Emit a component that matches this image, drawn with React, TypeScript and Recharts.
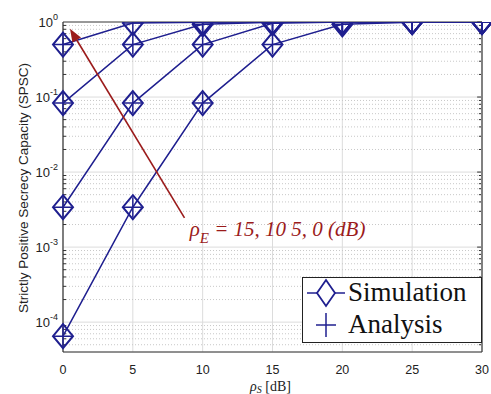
import React from 'react';
import {
    LineChart,
    Line,
    XAxis,
    YAxis,
    CartesianGrid,
    ReferenceLine,
    ReferenceDot,
    Legend,
} from 'recharts';

// rho_S in dB
const rhoS = [0, 5, 10, 15, 20, 25, 30];
// SPSC for rho_E = 0, 5, 10, 15 dB (top to bottom)
const spscE0 = [0.5, 0.97, 0.995, 1, 1, 1, 1];
const spscE5 = [0.083, 0.5, 0.93, 0.995, 1, 1, 1];
const spscE10 = [0.0034, 0.083, 0.5, 0.96, 0.997, 1, 1];
const spscE15 = [0.000065, 0.0034, 0.083, 0.5, 0.93, 0.995, 1];

const xTicks = [0, 5, 10, 15, 20, 25, 30];
const yTicks = [1e-4, 1e-3, 1e-2, 1e-1, 1];

const NAVY = '#1f1f8f';
const DARK_RED = '#9b1b1b';
const SANS = 'Liberation Sans, Arial, sans-serif';
const SERIF = 'Liberation Serif, Times New Roman, serif';

const minorValues: number[] = [];
for (let k = -5; k <= -1; k++) {
    for (let m = 2; m <= 9; m++) {
        const v = m * Math.pow(10, k);
        if (v > 4e-5 && v < 1) minorValues.push(v);
    }
}

const chartData = rhoS.map((x, i) => ({
    x,
    e0: spscE0[i],
    e5: spscE5[i],
    e10: spscE10[i],
    e15: spscE15[i],
}));

function DiamondPlus(props: any) {
    const { cx, cy } = props;
    if (cx == null || cy == null) return null;
    return (
        <g>
            <polygon
                points={`${cx},${cy - 12} ${cx + 10},${cy} ${cx},${cy + 12} ${cx - 10},${cy}`}
                fill="none"
                stroke={NAVY}
                strokeWidth={2}
            />
            <line x1={cx - 9} y1={cy} x2={cx + 9} y2={cy} stroke={NAVY} strokeWidth={1.5} />
            <line x1={cx} y1={cy - 10} x2={cx} y2={cy + 10} stroke={NAVY} strokeWidth={1.5} />
        </g>
    );
}

function YTick({ x, y, payload }: any) {
    const e = Math.round(Math.log10(payload.value));
    return (
        <text x={x} y={y} dy={5} textAnchor="end" fontSize={13} fill="#222" fontFamily={SANS}>
            <tspan>10</tspan>
            <tspan dy={-7} fontSize={9}>{e}</tspan>
        </text>
    );
}

function Arrow(props: any) {
    const { x1, y1, x2, y2 } = props;
    if (x1 == null) return null;
    const ang = Math.atan2(y2 - y1, x2 - x1);
    const L = 13;
    const W = 5;
    const bx = x2 - L * Math.cos(ang);
    const by = y2 - L * Math.sin(ang);
    const px = -Math.sin(ang) * W;
    const py = Math.cos(ang) * W;
    return (
        <g>
            <line x1={x1} y1={y1} x2={bx} y2={by} stroke={DARK_RED} strokeWidth={1.6} />
            <polygon points={`${x2},${y2} ${bx + px},${by + py} ${bx - px},${by - py}`} fill={DARK_RED} />
        </g>
    );
}

function AnnotationText(props: any) {
    const { cx, cy } = props;
    if (cx == null) return null;
    return (
        <text x={cx} y={cy} fill={DARK_RED} fontFamily={SERIF} fontStyle="italic" fontSize={21}>
            <tspan>ρ</tspan>
            <tspan dy={7} fontSize={15}>E</tspan>
            <tspan dy={-7}> = 15, 10 5, 0 (dB)</tspan>
        </text>
    );
}

function XLabel({ viewBox }: any) {
    const cx = viewBox.x + viewBox.width / 2;
    return (
        <text x={cx - 2} y={391} textAnchor="middle" fill="#222" fontFamily={SERIF} fontSize={14}>
            <tspan fontStyle="italic">ρ</tspan>
            <tspan dy={2} fontSize={10} fontStyle="italic">S</tspan>
            <tspan dy={-2}> [dB]</tspan>
        </text>
    );
}

function YLabel() {
    return (
        <text x={28} y={188} transform="rotate(-90 28 188)" textAnchor="middle" fill="#222" fontFamily={SANS} fontSize={13.5}>
            Strictly Positive Secrecy Capacity (SPSC)
        </text>
    );
}

function LegendBox() {
    return (
        <svg width={180} height={66} style={{ display: 'block' }}>
            <rect x={0.5} y={0.5} width={179} height={65} fill="#fff" stroke="#222" strokeWidth={1} />
            <line x1={5} y1={16} x2={43} y2={16} stroke={NAVY} strokeWidth={1.5} />
            <polygon points="24,3 33,16 24,29 15,16" fill="#fff" stroke={NAVY} strokeWidth={1.8} />
            <line x1={14} y1={48} x2={34} y2={48} stroke={NAVY} strokeWidth={1.5} />
            <line x1={24} y1={36} x2={24} y2={60} stroke={NAVY} strokeWidth={1.5} />
            <text x={46} y={24} fontSize={27} fontFamily={SERIF} fill="#111">Simulation</text>
            <text x={46} y={56} fontSize={27} fontFamily={SERIF} fill="#111">Analysis</text>
        </svg>
    );
}

const seriesKeys = ['e0', 'e5', 'e10', 'e15'];

export default function App() {
    return (
        <div style={{ position: 'absolute', left: 0, top: 0, width: 491, height: 394, background: '#fff' }}>
            <LineChart
                width={491}
                height={394}
                data={chartData}
                margin={{ top: 22, right: 9, left: 0, bottom: 0 }}
            >
                <CartesianGrid stroke="#dcdcdc" strokeWidth={1} />
                {minorValues.map(v => (
                    <ReferenceLine key={v} y={v} stroke="#c8c8c8" strokeDasharray="1 2" strokeWidth={1} />
                ))}
                {/* inner minor ticks on left and right axes */}
                {minorValues.map(v => (
                    <ReferenceLine key={'l' + v} segment={[{ x: 0, y: v }, { x: 0.22, y: v }]} stroke="#333" strokeWidth={1} />
                ))}
                {minorValues.map(v => (
                    <ReferenceLine key={'r' + v} segment={[{ x: 29.78, y: v }, { x: 30, y: v }]} stroke="#333" strokeWidth={1} />
                ))}
                {yTicks.map(v => (
                    <ReferenceLine key={'rm' + v} segment={[{ x: 29.65, y: v }, { x: 30, y: v }]} stroke="#333" strokeWidth={1} />
                ))}
                <XAxis
                    dataKey="x"
                    type="number"
                    domain={[0, 30]}
                    ticks={xTicks}
                    height={42}
                    tickLine={false}
                    axisLine={{ stroke: '#333', strokeWidth: 1.2 }}
                    tick={{ fill: '#222', fontSize: 12.5, fontFamily: SANS }}
                    tickMargin={7}
                    label={<XLabel />}
                />
                <YAxis
                    scale="log"
                    type="number"
                    domain={[4e-5, 1]}
                    allowDataOverflow
                    ticks={yTicks}
                    width={63}
                    tickLine={false}
                    tickSize={0}
                    tickMargin={5}
                    axisLine={{ stroke: '#333', strokeWidth: 1.2 }}
                    tick={<YTick />}
                    label={<YLabel />}
                />
                <ReferenceLine x={30} stroke="#808080" strokeWidth={2} />
                <ReferenceLine y={1} stroke="#444" strokeWidth={1.2} />
                {seriesKeys.map(k => (
                    <Line
                        key={k}
                        dataKey={k}
                        type="linear"
                        stroke={NAVY}
                        strokeWidth={1.5}
                        dot={<DiamondPlus />}
                        activeDot={false}
                        isAnimationActive={false}
                    />
                ))}
                <ReferenceLine
                    segment={[{ x: 8.7, y: 0.00245 }, { x: 0.5, y: 0.81 }]}
                    shape={<Arrow />}
                    ifOverflow="visible"
                />
                <ReferenceDot x={9.07} y={0.0014} r={0} shape={<AnnotationText />} ifOverflow="visible" />
                <Legend
                    layout="horizontal"
                    verticalAlign="middle"
                    align="center"
                    wrapperStyle={{ left: 302, top: 277, width: 180, height: 66 }}
                    content={() => <LegendBox />}
                />
            </LineChart>
        </div>
    );
}
